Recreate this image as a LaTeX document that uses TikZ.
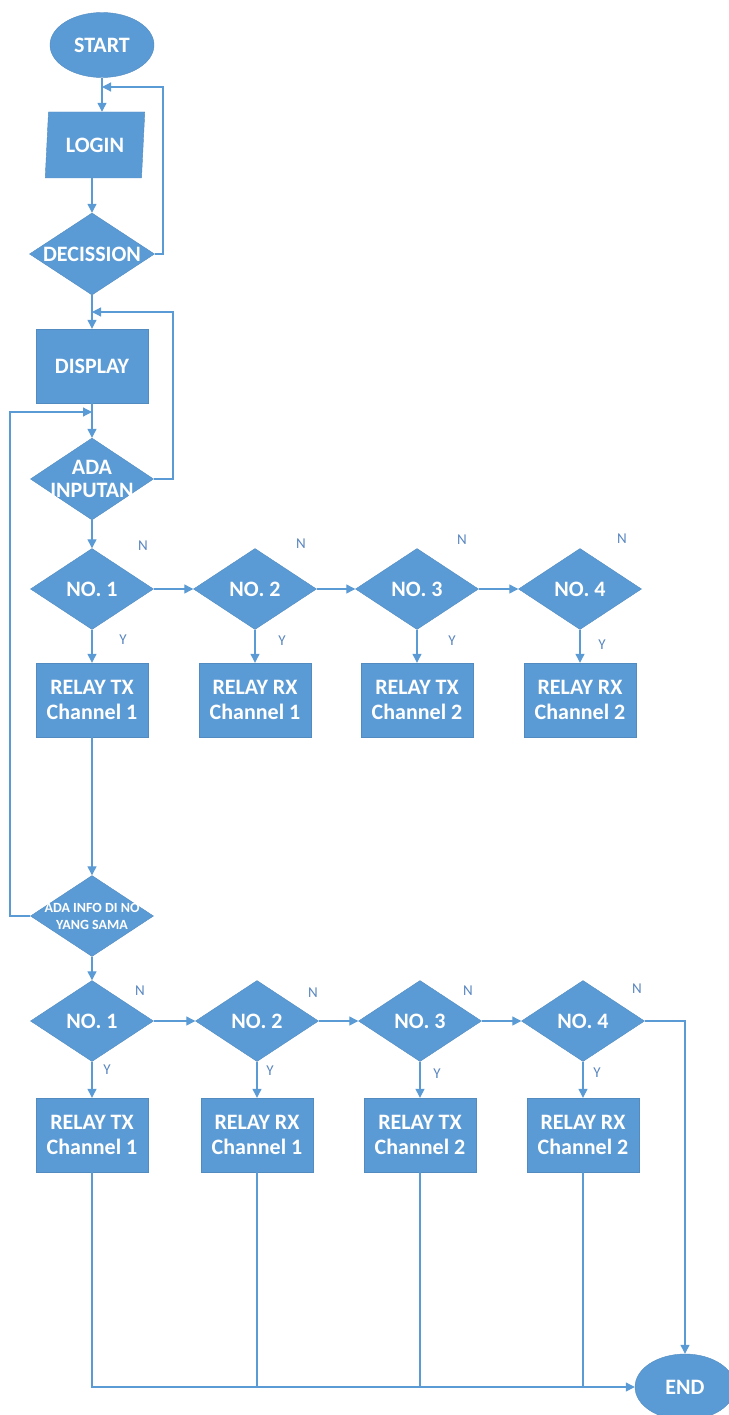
\documentclass[tikz,border=0pt]{standalone}
\usepackage{fontspec}
\setmainfont{Carlito}
\usetikzlibrary{shapes.geometric,arrows.meta}
\definecolor{fc}{HTML}{5B9BD5}
\definecolor{lc}{HTML}{5B9BD5}
\definecolor{yn}{HTML}{5A86BF}
\tikzset{
  base/.style={fill=fc, draw=fc!90!black, line width=0.4pt, inner sep=0pt, text=white, font=\fontsize{22}{25}\selectfont\bfseries, align=center},
  term/.style={base, ellipse},
  io/.style={base, trapezium, trapezium left angle=82, trapezium right angle=98, trapezium stretches=true, minimum width=100pt, minimum height=66pt},
  proc/.style={base, rectangle, minimum width=112pt, minimum height=74pt},
  dia/.style={base, diamond, minimum width=123pt, minimum height=81pt},
  lbl/.style={text=white, font=\fontsize{22}{23}\selectfont\bfseries, align=center, inner sep=0pt},
  slbl/.style={text=white, font=\fontsize{14}{17}\selectfont\bfseries, align=center, inner sep=0pt},
  yn/.style={text=yn, font=\fontsize{15}{15}\selectfont, inner sep=0pt},
  conn/.style={draw=lc, line width=1.2pt},
  arr/.style={conn, -{Triangle[length=9pt,width=9pt]}},
}
\begin{document}
\begin{tikzpicture}[x=1pt,y=-1pt]
\useasboundingbox (0,0) rectangle (728,1415);

\node[term, minimum width=104pt, minimum height=65pt] (start) at (102,45) {START};
\node[io] (login) at (95,145) {LOGIN};
\node[dia, minimum width=125pt, minimum height=82pt, label={[lbl]center:DECISSION}] (dec) at (92,254) {};
\node[proc] (disp) at (92,366) {DISPLAY};
\node[dia, minimum height=82pt, label={[lbl]center:ADA\\INPUTAN}] (inp) at (92,479) {};

% row 1
\node[dia, label={[lbl]center:NO. 1}] (a1) at (92,589) {};
\node[dia, label={[lbl]center:NO. 2}] (a2) at (255,589) {};
\node[dia, label={[lbl]center:NO. 3}] (a3) at (417,589) {};
\node[dia, label={[lbl]center:NO. 4}] (a4) at (580,589) {};
\node[proc] (b1) at (92,700) {RELAY TX\\Channel 1};
\node[proc] (b2) at (255,700) {RELAY RX\\Channel 1};
\node[proc] (b3) at (417,700) {RELAY TX\\Channel 2};
\node[proc] (b4) at (580,700) {RELAY RX\\Channel 2};

\node[dia, label={[slbl]center:ADA INFO DI NO\\YANG SAMA}] (info) at (92,916) {};

% row 2
\node[dia, label={[lbl]center:NO. 1}] (c1) at (92,1021) {};
\node[dia, label={[lbl]center:NO. 2}] (c2) at (257,1021) {};
\node[dia, label={[lbl]center:NO. 3}] (c3) at (420,1021) {};
\node[dia, label={[lbl]center:NO. 4}] (c4) at (583,1021) {};
\node[proc] (d1) at (92,1135) {RELAY TX\\Channel 1};
\node[proc] (d2) at (257,1135) {RELAY RX\\Channel 1};
\node[proc] (d3) at (420,1135) {RELAY TX\\Channel 2};
\node[proc] (d4) at (583,1135) {RELAY RX\\Channel 2};

\node[term, minimum width=100pt, minimum height=66pt] (endn) at (685,1387) {END};

% N / Y labels
\node[yn] (n1) at (143,546) {N};
\node[yn] (n2) at (301,544) {N};
\node[yn] (n3) at (462,540) {N};
\node[yn] (n4) at (622,539) {N};
\node[yn] (y1) at (123,640) {Y};
\node[yn] (y2) at (282,641) {Y};
\node[yn] (y3) at (452,641) {Y};
\node[yn] (y4) at (602,645) {Y};
\node[yn] (n5) at (140,991) {N};
\node[yn] (n6) at (313,993) {N};
\node[yn] (n7) at (468,991) {N};
\node[yn] (n8) at (637,989) {N};
\node[yn] (y5) at (107,1070) {Y};
\node[yn] (y6) at (270,1071) {Y};
\node[yn] (y7) at (437,1074) {Y};
\node[yn] (y8) at (597,1073) {Y};

% loop coordinates
\coordinate (k1) at (163,87);
\coordinate (k2) at (173,312);
\coordinate (k3) at (10,412);
\coordinate (k4) at (685,1021);

% connectors
\draw[arr] (start.south) -- (start.south |- login.north);
\draw[arr] (dec.east) -| (k1) -- (k1 -| start.south);
\draw[arr] (dec.north |- login.south) -- (dec.north);
\draw[arr] (dec.south) -- (disp.north);
\draw[arr] (inp.east) -| (k2) -- (k2 -| disp.north);
\draw[arr] (disp.south) -- (inp.north);
\draw[arr] (info.west) -| (k3) -- (k3 -| disp.south);
\draw[arr] (inp.south) -- (a1.north);

\draw[arr] (a1.east) -- (a2.west);
\draw[arr] (a2.east) -- (a3.west);
\draw[arr] (a3.east) -- (a4.west);
\draw[arr] (a1.south) -- (b1.north);
\draw[arr] (a2.south) -- (b2.north);
\draw[arr] (a3.south) -- (b3.north);
\draw[arr] (a4.south) -- (b4.north);

\draw[arr] (b1.south) -- (info.north);
\draw[arr] (info.south) -- (c1.north);

\draw[arr] (c1.east) -- (c2.west);
\draw[arr] (c2.east) -- (c3.west);
\draw[arr] (c3.east) -- (c4.west);
\draw[arr] (c1.south) -- (d1.north);
\draw[arr] (c2.south) -- (d2.north);
\draw[arr] (c3.south) -- (d3.north);
\draw[arr] (c4.south) -- (d4.north);

\draw[arr] (c4.east) -- (k4) -- (endn.north);
\draw[arr] (d1.south) |- (endn.west);
\draw[conn] (d2.south) -- (d2.south |- endn.west);
\draw[conn] (d3.south) -- (d3.south |- endn.west);
\draw[conn] (d4.south) -- (d4.south |- endn.west);
\end{tikzpicture}
\end{document}
